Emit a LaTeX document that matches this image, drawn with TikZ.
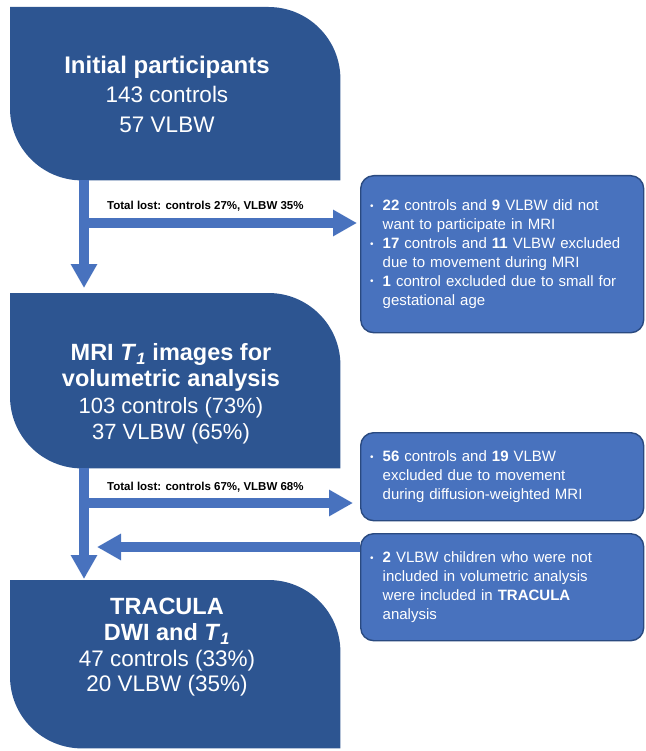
\documentclass[tikz,border=0pt]{standalone}
\usepackage{fontspec}
\setmainfont{Liberation Sans}
\usetikzlibrary{arrows.meta,calc,backgrounds}
\definecolor{darkbox}{HTML}{2D5591}
\definecolor{midblue}{HTML}{4872BE}
\definecolor{edgeblue}{HTML}{2A4A80}
\newcommand{\bul}{\raisebox{1.5pt}{\fontsize{10}{10}\selectfont\textbullet}}
\begin{document}
\begin{tikzpicture}[x=1pt,y=1pt,
  big/.style={draw=none,minimum width=330pt,inner sep=0pt,anchor=north west},
  bigtext/.style={text=white,align=center,inner sep=0pt},
  side/.style={rectangle,rounded corners=13pt,fill=midblue,draw=edgeblue,line width=1.4pt,
    text width=264pt,inner xsep=9.5pt,inner ysep=0pt,anchor=north west,align=left,text=white,
    font=\fontsize{15}{18.9}\selectfont},
  arr/.style={draw=midblue,line width=9.5pt,-{Triangle[width=25pt,length=24pt]}},
  lost/.style={font=\fontsize{11.5}{13}\selectfont\bfseries,anchor=base west,inner sep=0pt}
]
\useasboundingbox (0,0) rectangle (645,-751);

% big boxes
\node[big,minimum height=173pt] (b1) at (10,-7) {};
\node[big,minimum height=175pt] (b2) at (10,-293) {};
\node[big,minimum height=168pt] (b3) at (10,-580) {};
\begin{scope}[on background layer]
\foreach \b in {b1,b2,b3}{
  \fill[darkbox] (\b.north west) -- ($(\b.north east)+(-72,0)$)
    arc[start angle=90,end angle=0,radius=72] -- (\b.south east)
    -- ($(\b.south west)+(72,0)$) arc[start angle=270,end angle=180,radius=72] -- cycle;
}
\end{scope}

\node[bigtext,font=\fontsize{22.5}{29.5}\selectfont] (t1) at (167,-94)
  {{\fontsize{24}{29.5}\selectfont\bfseries Initial participants}\\143 controls\\57 VLBW};
\node[bigtext,font=\fontsize{22}{26.5}\selectfont] (t2) at (171,-394)
  {{\fontsize{23.5}{26.5}\selectfont\bfseries MRI \textit{T}\textsubscript{\textit{1}} images for}\\
   {\fontsize{23.5}{26.5}\selectfont\bfseries volumetric analysis}\\103 controls (73\%)\\37 VLBW (65\%)};
\node[bigtext,font=\fontsize{22.5}{25.7}\selectfont] (t3) at (167,-647.5)
  {{\fontsize{23.5}{25.7}\selectfont\bfseries TRACULA}\\
   {\fontsize{23.5}{25.7}\selectfont\bfseries DWI and \textit{T}\textsubscript{\textit{1}}}\\47 controls (33\%)\\20 VLBW (35\%)};

% side boxes
\node[side,minimum width=283pt,minimum height=157pt] (rA) at (360,-175) {%
  \begin{tabular}{@{}l@{\hspace{9pt}}l@{}}
  \bul & \textbf{22} controls and \textbf{9} VLBW did not\\
       & want to participate in MRI\\
  \bul & \textbf{17} controls and \textbf{11} VLBW excluded\\
       & due to movement during MRI\\
  \bul & \textbf{1} control excluded due to small for\\
       & gestational age
  \end{tabular}};
\node[side,minimum width=283pt,minimum height=88pt] (rB) at (360,-432) {%
  \begin{tabular}{@{}l@{\hspace{9pt}}l@{}}
  \bul & \textbf{56} controls and \textbf{19} VLBW\\
       & excluded due to movement\\
       & during diffusion-weighted MRI
  \end{tabular}};
\node[side,minimum width=283pt,minimum height=107pt] (rC) at (360,-533) {%
  \begin{tabular}{@{}l@{\hspace{9pt}}l@{}}
  \bul & \textbf{2} VLBW children who were not\\
       & included in volumetric analysis\\
       & were included in \textbf{TRACULA}\\
       & analysis
  \end{tabular}};

% labels
\node[lost] (l1) at (107,-210) {Total lost: controls 27\%, VLBW 35\%};
\node[lost] (l2) at (107,-490) {Total lost: controls 67\%, VLBW 68\%};

% connectors
\coordinate (v1) at ($(b1.south west)+(74,0)$);
\coordinate (j1) at (84,-223);
\coordinate (v2) at ($(b2.south west)+(74,0)$);
\coordinate (j2) at (84,-503);
\coordinate (m) at (97,-547);
\draw[arr,shorten >=5pt] (v1) -- (v1 |- b2.north);
\draw[arr,shorten >=3pt] (j1) -- (j1 -| rA.west);
\draw[arr,shorten >=1pt] (v2) -- (v2 |- b3.north);
\draw[arr,shorten >=7pt] (j2) -- (j2 -| rB.west);
\draw[arr] (rC.west |- m) -- (m);
\end{tikzpicture}
\end{document}
